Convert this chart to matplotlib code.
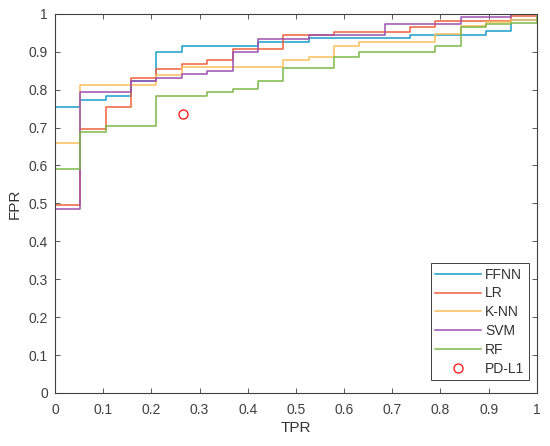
import matplotlib
matplotlib.use('Agg')
import matplotlib.pyplot as plt
import numpy as np

# step values, one per interval k/19 .. (k+1)/19
n_steps = 19
ffnn = [0.754, 0.773, 0.782, 0.822, 0.898, 0.916, 0.916, 0.916, 0.926, 0.926,
        0.937, 0.937, 0.937, 0.937, 0.945, 0.945, 0.945, 0.954, 0.984]
lr = [0.496, 0.697, 0.754, 0.830, 0.854, 0.868, 0.879, 0.907, 0.907, 0.945,
      0.945, 0.953, 0.953, 0.953, 0.964, 0.982, 0.982, 0.982, 0.993]
knn = [0.659, 0.811, 0.811, 0.811, 0.839, 0.860, 0.860, 0.860, 0.860, 0.877,
       0.887, 0.916, 0.926, 0.926, 0.926, 0.946, 0.967, 0.978, 0.985]
svm = [0.486, 0.7925, 0.7925, 0.822, 0.8305, 0.841, 0.850, 0.899, 0.934, 0.934,
       0.945, 0.945, 0.945, 0.974, 0.974, 0.974, 0.9915, 0.9915, 1.0]
rf = [0.591, 0.687, 0.705, 0.705, 0.782, 0.782, 0.793, 0.801, 0.822, 0.858,
      0.858, 0.887, 0.898, 0.898, 0.898, 0.916, 0.965, 0.974, 0.975]

names = ['FFNN', 'LR', 'K-NN', 'SVM', 'RF']
colors = ['#1A9FCB', '#F0603A', '#FBBF5A', '#9B4FAE', '#7DB848']

pdl1_x = [0.2656]
pdl1_y = [0.7355]

ticks = np.arange(0, 1.01, 0.1)
tick_labels = ['0', '0.1', '0.2', '0.3', '0.4', '0.5', '0.6', '0.7', '0.8', '0.9', '1']

plt.rcParams['font.family'] = ['Liberation Sans', 'DejaVu Sans']
fig = plt.figure(figsize=(5.5, 4.46), dpi=100)
ax = fig.add_axes([0.1, 0.119, 0.876, 0.85])

xs = np.concatenate([[0], np.arange(n_steps + 1) / n_steps])
for vals, name, c in zip([ffnn, lr, knn, svm, rf], names, colors):
    ys = np.concatenate([[0], vals, [1.0]])
    ax.step(xs, ys, where='post', color=c, lw=1.1, label=name)

ax.plot(pdl1_x, pdl1_y, 'o', mfc='none', mec='#FF2020', ms=6.5, mew=1.0, label='PD-L1')

ax.set_xlim(0, 1)
ax.set_ylim(0, 1)
ax.set_xticks(ticks)
ax.set_xticklabels(tick_labels)
ax.set_yticks(ticks)
ax.set_yticklabels(tick_labels)
ax.tick_params(direction='in', top=True, right=True, length=3.5, width=0.6,
               labelsize=10, colors='#404040')
ax.tick_params(axis='x', pad=7)
ax.tick_params(axis='y', pad=5)
for s in ax.spines.values():
    s.set_color('#404040')
    s.set_linewidth(0.8)

ax.set_xlabel('TPR', fontsize=11, color='#333333', labelpad=3)
ax.set_ylabel('FPR', fontsize=11, color='#333333', labelpad=5)

leg = ax.legend(loc='lower right', bbox_to_anchor=(0.983, 0.034), fontsize=10,
                fancybox=False, framealpha=1, edgecolor='#404040',
                handlelength=3.3, handletextpad=0.3, borderpad=0.3,
                labelspacing=0.35, borderaxespad=0)
leg.get_frame().set_linewidth(0.7)
for t in leg.get_texts():
    t.set_color('#333333')

fig.savefig('out.png', dpi=100)
